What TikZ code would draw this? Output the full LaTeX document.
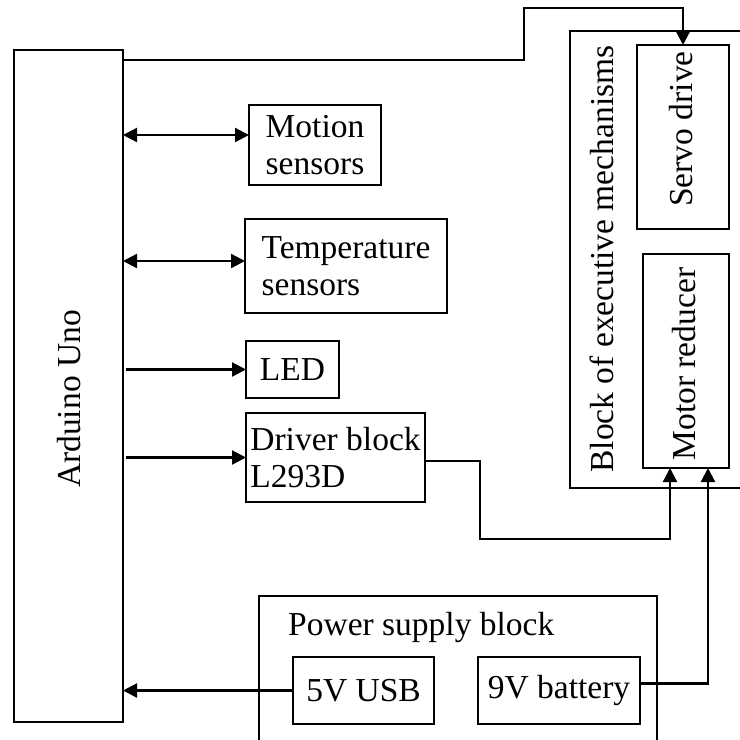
\documentclass[tikz,border=0pt]{standalone}
\usepackage{fontspec}
\setmainfont{Liberation Serif}
\usetikzlibrary{arrows.meta, positioning, calc}

\begin{document}
\begin{tikzpicture}[
  x=1pt, y=-1pt,
  font=\fontsize{33.5}{37}\selectfont,
  blk/.style n args={2}{
    rectangle, draw, line width=2.2pt, minimum width=#1, minimum height=#2,
    anchor=north west, align=left, inner sep=0pt, outer sep=0pt,
  },
  vlbl/.style={rotate=90, anchor=base, inner sep=0pt},
  wire/.style={line width=2.2pt},
  arr/.style={wire, -{Triangle[length=14pt,width=14pt]}},
  dblarr/.style={wire, {Triangle[length=14pt,width=14pt]}-{Triangle[length=14pt,width=14pt]}},
]
  \useasboundingbox (0,0) rectangle (740,740);

  % Controller
  \node[blk={109}{672}] (ard) at (14,50) {};
  \node[vlbl] (ardlbl) at (80,399) {Arduino Uno};

  % Sensors and outputs
  \node[blk={132}{80}] (mot) at (249,105) {Motion\\sensors};
  \node[blk={202}{94}] (tmp) at (245,219) {Temperature\\sensors};
  \node[blk={93}{57}] (led) at (246,341) {LED};
  \node[blk={179}{89}] (drv) at (246,413) {Driver block\\L293D};

  % Executive mechanisms
  \node[blk={180}{457}] (exe) at (570,31) {};
  \node[vlbl] (exelbl) at (613,259) {Block of executive mechanisms};
  \node[blk={92}{184}] (srv) at (637,45) {};
  \node[vlbl] (srvlbl) at (692,129) {Servo drive};
  \node[blk={86}{214}] (mtr) at (643,254) {};
  \node[vlbl] (mtrlbl) at (695,364) {Motor reducer};

  % Power supply
  \node[blk={398}{160}] (pwr) at (259,596) {};
  \node[anchor=base west, inner sep=0pt] (pwrlbl) at (288,635) {Power supply block};
  \node[blk={141}{67}] (usb) at (293,657) {5V USB};
  \node[blk={162}{67}] (bat) at (478,657) {9V battery};

  % Connections
  \coordinate (top1) at ($(ard.north east)+(0,10)$);
  \coordinate (bend) at (524,8);
  \draw[arr] (top1) -| (bend) -| (srv.north);

  \coordinate (motin) at ([yshift=10pt]mot.west);
  \draw[dblarr] (ard.east |- motin) -- (motin);
  \coordinate (tmpin) at ([yshift=5pt]tmp.west);
  \draw[dblarr] (ard.east |- tmpin) -- (tmpin);
  \draw[arr] ($(ard.east |- led.west)+(3,0)$) -- (led.west);
  \draw[arr] ($(ard.east |- drv.west)+(3,0)$) -- (drv.west);

  \coordinate (drvdrop) at (480,539);
  \coordinate (mtrA) at ($(mtr.south)+(-16,0)$);
  \coordinate (mtrB) at ($(mtr.south)+(22,0)$);
  \draw[arr] ([yshift=-3.5pt]drv.east) -| (drvdrop) -| (mtrA);
  \draw[arr] ([yshift=7pt]bat.east) -| (mtrB);
  \draw[arr] (usb.west) -- (ard.east |- usb.west);

\end{tikzpicture}
\end{document}
